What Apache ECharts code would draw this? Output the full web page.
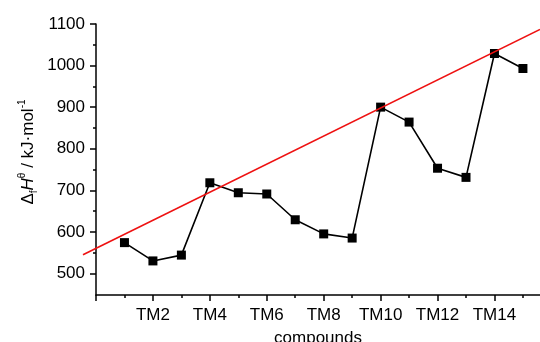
<!DOCTYPE html>
<html><head><meta charset="utf-8">
<script src="https://cdn.jsdelivr.net/npm/echarts@6/dist/echarts.min.js"></script>
<style>html,body{margin:0;padding:0;background:#fff}#c{width:540px;height:342px}</style>
</head><body><div id="c"></div>
<script>
const compounds = [1,2,3,4,5,6,7,8,9,10,11,12,13,14,15];
const enthalpy = [574,530,544,718,694,691,629,595,585,900,864,753,731,1029,993];
const fitLine = [[-0.45,545],[15.6,1087]];
const xMajorTicks = [0,2,4,6,8,10,12,14];
const xMinorTicks = [1,3,5,7,9,11,13,15];
const xLabels = [2,4,6,8,10,12,14];
const yMajorTicks = [500,600,700,800,900,1000,1100];
const yMinorTicks = [550,650,750,850,950,1050];
const FONT = '"Liberation Sans",Arial,sans-serif';
const chart = echarts.init(document.getElementById('c'));
const yBase = {type:'value',min:448,max:1100,splitLine:{show:false}};
const xBase = {type:'value',min:0,max:15.6,splitLine:{show:false}};
chart.setOption({
  animation:false,
  backgroundColor:'#fff',
  grid:[
    {left:96,right:0,top:24,bottom:47,outerBoundsMode:'none',containLabel:false},
    {left:83,right:0,top:24,bottom:47,outerBoundsMode:'none',containLabel:false}
  ],
  xAxis:[
    Object.assign({},xBase,{gridIndex:0,
      axisLine:{lineStyle:{color:'#000',width:1.5}},
      axisTick:{customValues:xMajorTicks,length:6,lineStyle:{color:'#000',width:1.5}},
      axisLabel:{customValues:xLabels,formatter:v=>'TM'+v,color:'#000',fontSize:17,fontFamily:FONT,margin:12},
      name:'compounds',nameLocation:'middle',nameGap:35,
      nameTextStyle:{color:'#000',fontSize:17,fontFamily:FONT}
    }),
    Object.assign({},xBase,{gridIndex:0,position:'bottom',offset:0,
      axisLine:{show:false},axisLabel:{show:false},
      axisTick:{customValues:xMinorTicks,length:3,lineStyle:{color:'#000',width:1.5}}}),
    {type:'value',gridIndex:1,min:fitLine[0][0],max:15.6,show:false}
  ],
  yAxis:[
    Object.assign({},yBase,{gridIndex:0,
      axisLine:{lineStyle:{color:'#000',width:1.5}},
      axisTick:{customValues:yMajorTicks,length:6,lineStyle:{color:'#000',width:1.5}},
      axisLabel:{customValues:yMajorTicks,formatter:v=>String(v),color:'#000',fontSize:17,fontFamily:FONT,margin:11}
    }),
    Object.assign({},yBase,{gridIndex:0,position:'left',offset:0,
      axisLine:{show:false},axisLabel:{show:false},
      axisTick:{customValues:yMinorTicks,length:3,lineStyle:{color:'#000',width:1.5}}}),
    Object.assign({},yBase,{gridIndex:1,show:false})
  ],
  graphic:[{
    type:'text',x:28,y:152,rotation:Math.PI/2,
    style:{
      text:'{n|Δ}{s|f}{i|H}{p|θ}{n| / kJ·mol}{p|-1}',
      align:'center',verticalAlign:'middle',
      rich:{
        n:{fontSize:17,fontFamily:FONT,fill:'#000',lineHeight:22},
        i:{fontSize:17,fontFamily:FONT,fontStyle:'italic',fill:'#000',lineHeight:22},
        s:{fontSize:10,fontFamily:FONT,fill:'#000',verticalAlign:'bottom',lineHeight:22},
        p:{fontSize:10,fontFamily:FONT,fill:'#000',verticalAlign:'top',lineHeight:22}
      }
    }
  }],
  series:[
    {type:'line',xAxisIndex:2,yAxisIndex:2,data:fitLine,showSymbol:false,
     lineStyle:{color:'#ee1111',width:1.6},z:3},
    {type:'line',xAxisIndex:0,yAxisIndex:0,data:compounds.map((c,i)=>[c,enthalpy[i]]),
     symbol:'rect',symbolSize:9,itemStyle:{color:'#000'},
     lineStyle:{color:'#000',width:1.6},z:2}
  ]
});
</script></body></html>
